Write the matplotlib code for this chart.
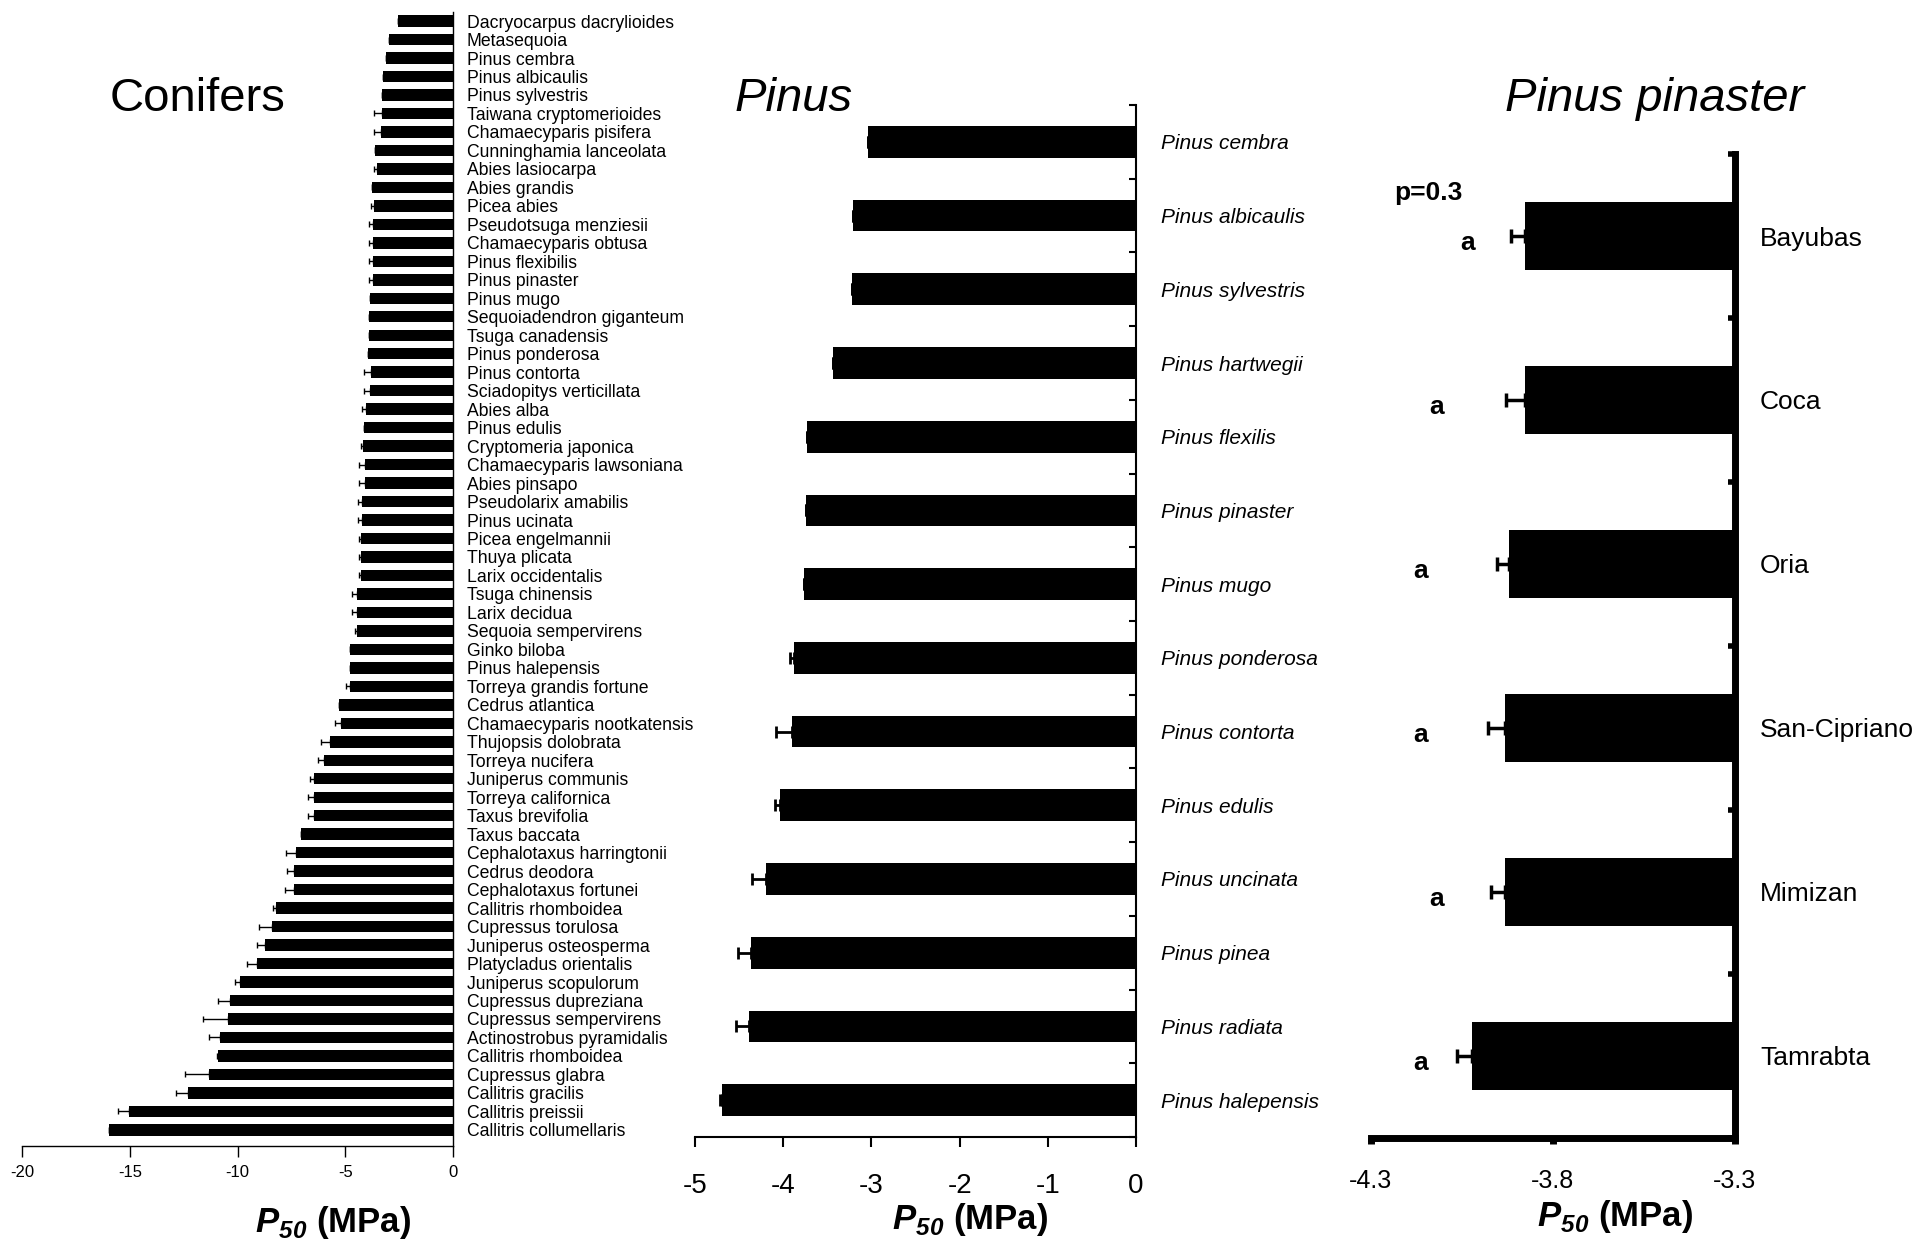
import numpy as np
import matplotlib
matplotlib.use('Agg')
import matplotlib.pyplot as plt

plt.rcParams['font.family'] = ['Liberation Sans', 'DejaVu Sans']
plt.rcParams['mathtext.fontset'] = 'custom'
plt.rcParams['mathtext.bfit'] = 'Liberation Sans:italic:bold'
plt.rcParams['mathtext.rm'] = 'Liberation Sans'

# ---- data: conifers
conifer_names = [
    'Dacryocarpus dacrylioides', 'Metasequoia', 'Pinus cembra', 'Pinus albicaulis',
    'Pinus sylvestris', 'Taiwana cryptomerioides', 'Chamaecyparis pisifera',
    'Cunninghamia lanceolata', 'Abies lasiocarpa', 'Abies grandis', 'Picea abies',
    'Pseudotsuga menziesii', 'Chamaecyparis obtusa', 'Pinus flexibilis', 'Pinus pinaster',
    'Pinus mugo', 'Sequoiadendron giganteum', 'Tsuga canadensis', 'Pinus ponderosa',
    'Pinus contorta', 'Sciadopitys verticillata', 'Abies alba', 'Pinus edulis',
    'Cryptomeria japonica', 'Chamaecyparis lawsoniana', 'Abies pinsapo',
    'Pseudolarix amabilis', 'Pinus ucinata', 'Picea engelmannii', 'Thuya plicata',
    'Larix occidentalis', 'Tsuga chinensis', 'Larix decidua', 'Sequoia sempervirens',
    'Ginko biloba', 'Pinus halepensis', 'Torreya grandis fortune', 'Cedrus atlantica',
    'Chamaecyparis nootkatensis', 'Thujopsis dolobrata', 'Torreya nucifera',
    'Juniperus communis', 'Torreya californica', 'Taxus brevifolia', 'Taxus baccata',
    'Cephalotaxus harringtonii', 'Cedrus deodora', 'Cephalotaxus fortunei',
    'Callitris rhomboidea', 'Cupressus torulosa', 'Juniperus osteosperma',
    'Platycladus orientalis', 'Juniperus scopulorum', 'Cupressus dupreziana',
    'Cupressus sempervirens', 'Actinostrobus pyramidalis', 'Callitris rhomboidea',
    'Cupressus glabra', 'Callitris gracilis', 'Callitris preissii', 'Callitris collumellaris']
conifer_p50 = [
    -2.57, -2.99, -3.09, -3.24, -3.30, -3.30, -3.36, -3.61, -3.51, -3.76, -3.65,
    -3.72, -3.72, -3.72, -3.72, -3.86, -3.90, -3.90, -3.95, -3.82, -3.86, -4.03,
    -4.13, -4.20, -4.07, -4.07, -4.24, -4.24, -4.28, -4.28, -4.28, -4.45, -4.45,
    -4.45, -4.76, -4.80, -4.76, -5.28, -5.18, -5.70, -6.01, -6.43, -6.43, -6.47,
    -7.06, -7.27, -7.37, -7.37, -8.20, -8.41, -8.73, -9.10, -9.87, -10.35, -10.46,
    -10.81, -10.92, -11.34, -12.28, -15.03, -15.97]
conifer_err = [
    0, 0, 0, 0, 0, 0.35, 0.30, 0, 0.15, 0, 0.17, 0.19, 0.19, 0.19, 0.19, 0, 0, 0, 0,
    0.31, 0.27, 0.18, 0, 0.08, 0.31, 0.31, 0.15, 0.15, 0.10, 0.10, 0.10, 0.25, 0.25,
    0.10, 0, 0, 0.21, 0, 0.31, 0.42, 0.25, 0.21, 0.31, 0.27, 0, 0.46, 0.35, 0.42,
    0.17, 0.58, 0.35, 0.46, 0.25, 0.56, 1.13, 0.52, 0.05, 1.09, 0.58, 0.52, 0]

# ---- data: Pinus
pinus_names = ['Pinus cembra', 'Pinus albicaulis', 'Pinus sylvestris', 'Pinus hartwegii',
               'Pinus flexilis', 'Pinus pinaster', 'Pinus mugo', 'Pinus ponderosa',
               'Pinus contorta', 'Pinus edulis', 'Pinus uncinata', 'Pinus pinea',
               'Pinus radiata', 'Pinus halepensis']
pinus_p50 = [-3.04, -3.21, -3.22, -3.44, -3.73, -3.74, -3.76, -3.88, -3.90, -4.04,
             -4.19, -4.36, -4.39, -4.69]
pinus_err = [0, 0, 0, 0, 0, 0, 0, 0.04, 0.18, 0.05, 0.16, 0.15, 0.14, 0.03]

# ---- data: Pinus pinaster populations
sites = ['Bayubas', 'Coca', 'Oria', 'San-Cipriano', 'Mimizan', 'Tamrabta']
site_p50 = [-3.876, -3.877, -3.922, -3.931, -3.932, -4.023]
site_err = [0.039, 0.051, 0.033, 0.048, 0.037, 0.040]
site_letters = ['a', 'a', 'a', 'a', 'a', 'a']
letter_x = [-4.035, -4.121, -4.165, -4.165, -4.121, -4.165]

fig = plt.figure(figsize=(19.32, 12.46), dpi=100)
xlab = r'$\mathbfit{P}_{\mathbfit{50}}$ (MPa)'

# ---------------- Conifers
ax1 = fig.add_axes([0.0114, 0.0803, 0.2231, 0.9102])
n1 = len(conifer_names)
y1 = np.arange(n1)
ax1.barh(y1, conifer_p50, height=0.62, color='black',
         xerr=[conifer_err, np.zeros(n1)], error_kw=dict(ecolor='black', elinewidth=1, capsize=2.5, capthick=1))
ax1.set_xlim(-20, 0)
ax1.set_ylim(60.87, -0.5)
for s in ['top', 'left']:
    ax1.spines[s].set_visible(False)
ax1.spines['right'].set_linewidth(1)
ax1.spines['bottom'].set_linewidth(1)
ax1.set_yticks(y1)
ax1.set_yticklabels(conifer_names, fontsize=12.7)
ax1.tick_params(axis='y', length=0, left=False, labelleft=False, right=False,
                labelright=True, pad=10)
ax1.set_xticks([-20, -15, -10, -5, 0])
ax1.set_xticklabels(['-20', '-15', '-10', '-5', '0'], fontsize=12)
ax1.tick_params(axis='x', direction='out', length=8, width=1, pad=6)
fig.text(0.102, 0.9205, 'Conifers', fontsize=34, ha='center', va='center')
fig.text(0.1724, 0.0185, xlab, fontsize=25, fontweight='bold', ha='center', va='center')

# ---------------- Pinus
ax2 = fig.add_axes([0.3597, 0.0875, 0.2283, 0.8282])
n2 = len(pinus_names)
y2 = np.arange(n2)
ax2.barh(y2, pinus_p50, height=0.43, color='black',
         xerr=[pinus_err, np.zeros(n2)], error_kw=dict(ecolor='black', elinewidth=2, capsize=4, capthick=2))
ax2.set_xlim(-5, 0)
ax2.set_ylim(n2 - 0.5, -0.5)
for s in ['top', 'left']:
    ax2.spines[s].set_visible(False)
ax2.spines['right'].set_linewidth(1.5)
ax2.spines['bottom'].set_linewidth(1.5)
ax2.set_yticks(y2)
ax2.set_yticklabels(pinus_names, style='italic', fontsize=15)
ax2.tick_params(axis='y', which='major', length=0, left=False, labelleft=False,
                right=False, labelright=True, pad=18)
ax2.set_yticks(np.arange(-0.5, n2), minor=True)
ax2.tick_params(axis='y', which='minor', left=False, right=True, direction='in', length=5, width=1.5)
ax2.set_xticks([-5, -4, -3, -2, -1, 0])
ax2.set_xticklabels(['-5', '-4', '-3', '-2', '-1', '0'], fontsize=20)
ax2.tick_params(axis='x', direction='out', length=7, width=1.5, pad=19)
fig.text(0.411, 0.9205, 'Pinus', fontsize=34, style='italic', ha='center', va='center')
fig.text(0.502, 0.021, xlab, fontsize=25, fontweight='bold', ha='center', va='center')

# ---------------- Pinus pinaster
ax3 = fig.add_axes([0.7096, 0.0867, 0.1884, 0.7897])
n3 = len(sites)
y3 = np.arange(n3)
ax3.barh(y3, site_p50, height=0.41, color='black',
         xerr=[site_err, np.zeros(n3)], error_kw=dict(ecolor='black', elinewidth=2.5, capsize=5, capthick=2.5))
ax3.set_xlim(-4.3, -3.3)
ax3.set_ylim(n3 - 0.5, -0.5)
for s in ['top', 'left']:
    ax3.spines[s].set_visible(False)
ax3.spines['right'].set_linewidth(5)
ax3.spines['bottom'].set_linewidth(5)
ax3.set_yticks(y3)
ax3.set_yticklabels(sites, fontsize=19)
ax3.tick_params(axis='y', which='major', length=0, left=False, labelleft=False,
                right=False, labelright=True, pad=18)
ax3.set_yticks(np.arange(-0.5, n3), minor=True)
ax3.tick_params(axis='y', which='minor', left=False, right=True, direction='in', length=5, width=4)
ax3.set_xticks([-4.3, -3.8, -3.3])
ax3.set_xticklabels(['-4.3', '-3.8', '-3.3'], fontsize=18)
ax3.tick_params(axis='x', direction='out', length=4, width=5, pad=18)
for yy, lx, lt in zip(y3, letter_x, site_letters):
    ax3.text(lx, yy + 0.04, lt, fontsize=19, fontweight='bold', ha='center', va='center')
ax3.text(-4.235, -0.26, 'p=0.3', fontsize=19, fontweight='bold', ha='left', va='center')
fig.text(0.8566, 0.9205, 'Pinus pinaster', fontsize=34, style='italic', ha='center', va='center')
fig.text(0.836, 0.024, xlab, fontsize=25, fontweight='bold', ha='center', va='center')

fig.savefig('out.png', dpi=100)
